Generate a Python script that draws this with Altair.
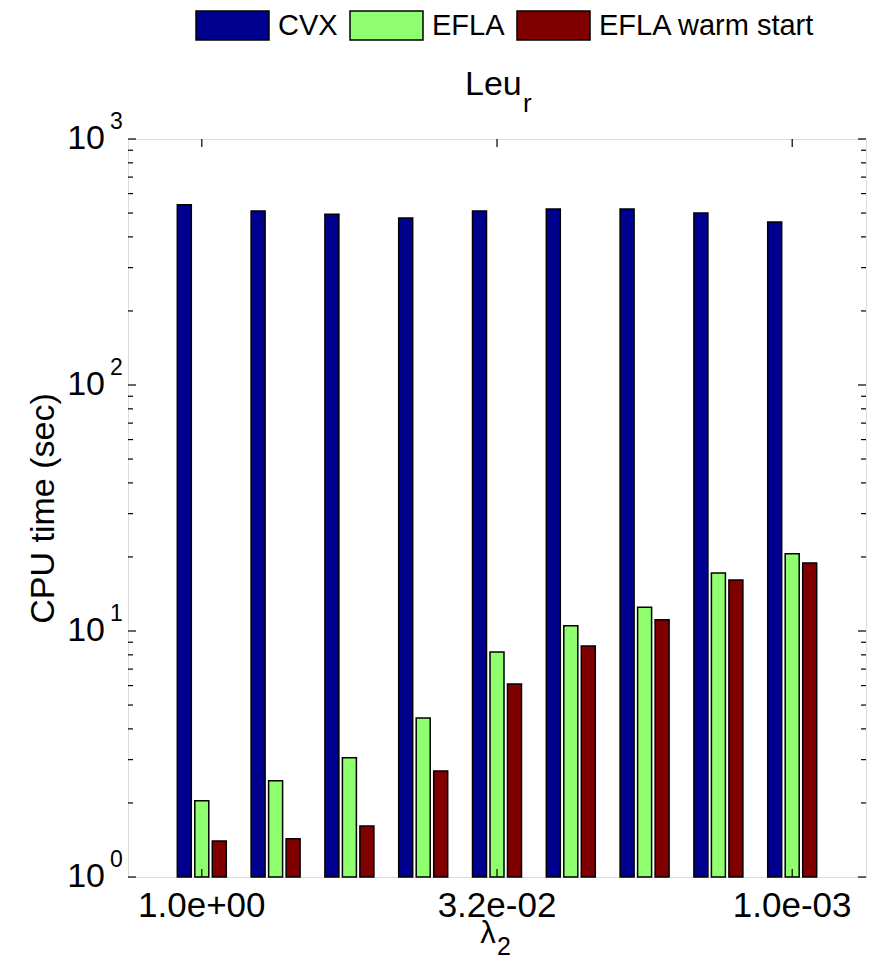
import altair as alt
import pandas as pd

# ---- data ----
lam_labels = ["1.0e+00", "4.2e-01", "1.8e-01", "7.5e-02", "3.2e-02",
              "1.3e-02", "5.6e-03", "2.4e-03", "1.0e-03"]
series = ["CVX", "EFLA", "EFLA warm start"]
cvx = [540, 510, 495, 477, 510, 519, 519, 500, 460]
efla = [2.04, 2.46, 3.05, 4.43, 8.22, 10.5, 12.5, 17.2, 20.6]
warm = [1.40, 1.43, 1.61, 2.70, 6.09, 8.69, 11.1, 16.1, 18.9]
colors = ["#00008F", "#8FFF70", "#800000"]
shown_x = ["1.0e+00", "3.2e-02", "1.0e-03"]
y_major = [1, 10, 100, 1000]
y_exps = ["0", "1", "2", "3"]
y_minor = [k * 10 ** d for d in range(3) for k in range(2, 10)]

FONT = "Liberation Sans"
W = H = 738

rows = []
for name, vals in zip(series, [cvx, efla, warm]):
    for lam, v in zip(lam_labels, vals):
        rows.append({"lam": lam, "series": name, "value": v})
bars_df = pd.DataFrame(rows)

xscale = alt.Scale(domain=lam_labels, paddingInner=0, paddingOuter=0.5)
yscale = alt.Scale(type="log", domain=[1, 1000])

xaxis = alt.Axis(values=shown_x, ticks=False, domain=False, grid=False,
                 labelAngle=0, labelFontSize=35, labelPadding=11,
                 labelFont=FONT, labelColor="black", title=None)
yaxis = alt.Axis(title="CPU time (sec)", labels=False, ticks=False,
                 domain=False, grid=False, titleFontSize=34,
                 titleFontWeight="normal", titleFont=FONT,
                 titleColor="black", titlePadding=68)

bars = alt.Chart(bars_df).mark_bar(stroke="black", strokeWidth=1.5).encode(
    x=alt.X("lam:N", scale=xscale, axis=xaxis),
    xOffset=alt.XOffset("series:N", scale=alt.Scale(domain=series, paddingInner=0.2,
                                                   paddingOuter=0.709)),
    y=alt.Y("value:Q", scale=yscale, axis=yaxis),
    y2=alt.datum(1),
    color=alt.Color("series:N", scale=alt.Scale(domain=series, range=colors),
                    legend=alt.Legend(title=None, orient="none", direction="horizontal",
                                      legendX=67, legendY=-151, padding=0,
                                      symbolType="M-1,-0.397H1V0.397H-1Z",
                                      symbolSize=5329, symbolStrokeColor="black",
                                      symbolStrokeWidth=1.5, symbolOpacity=1,
                                      labelFontSize=29, labelFont=FONT,
                                      labelColor="black", labelOffset=8,
                                      labelLimit=400, columnPadding=9)),
)

maj_df = pd.DataFrame({"v": y_major, "e": y_exps})
min_df = pd.DataFrame({"v": y_minor})
xt_df = pd.DataFrame({"lam": shown_x})

yv = alt.Y("v:Q", scale=yscale, axis=yaxis)

def yticks(df, length):
    left = alt.Chart(df).mark_rule(color="black", strokeWidth=1.2).encode(
        y=yv, x=alt.value(0), x2=alt.value(length))
    right = alt.Chart(df).mark_rule(color="black", strokeWidth=1.2).encode(
        y=yv, x=alt.value(W), x2=alt.value(W - length))
    return left + right

xtick_top = alt.Chart(xt_df).mark_rule(color="black", strokeWidth=1.2).encode(
    x=alt.X("lam:N", scale=xscale, axis=xaxis, bandPosition=0.5),
    y=alt.value(0), y2=alt.value(8))
xtick_bot = alt.Chart(xt_df).mark_rule(color="black", strokeWidth=1.2).encode(
    x=alt.X("lam:N", scale=xscale, axis=xaxis, bandPosition=0.5),
    y=alt.value(H), y2=alt.value(H - 8))

ylab_base = alt.Chart(maj_df).mark_text(
    align="right", baseline="middle", fontSize=34, font=FONT, color="black"
).encode(y=yv, x=alt.value(-23), text=alt.value("10"))
ylab_exp = alt.Chart(maj_df).mark_text(
    align="left", baseline="middle", fontSize=23, font=FONT, color="black", dy=-17
).encode(y=yv, x=alt.value(-18), text="e:N")

one = pd.DataFrame({"t": [0]})
title_main = alt.Chart(one).mark_text(
    align="left", baseline="alphabetic", fontSize=34, font=FONT, color="black"
).encode(x=alt.value(337), y=alt.value(-44), text=alt.value("Leu"))
title_sub = alt.Chart(one).mark_text(
    align="left", baseline="alphabetic", fontSize=26, font=FONT, color="black"
).encode(x=alt.value(395), y=alt.value(-27), text=alt.value("r"))
xt_main = alt.Chart(one).mark_text(
    align="center", baseline="alphabetic", fontSize=31, font=FONT, color="black"
).encode(x=alt.value(360), y=alt.value(804), text=alt.value("λ"))
xt_sub = alt.Chart(one).mark_text(
    align="left", baseline="alphabetic", fontSize=25, font=FONT, color="black"
).encode(x=alt.value(369), y=alt.value(816), text=alt.value("2"))

chart = alt.layer(
    bars, yticks(maj_df, 8), yticks(min_df, 5), xtick_top, xtick_bot,
    ylab_base, ylab_exp, title_main, title_sub, xt_main, xt_sub
).properties(
    width=W, height=H,
    padding={"left": 120, "top": 131, "right": 5, "bottom": 85},
    autosize=alt.AutoSizeParams(type="none"),
).configure_view(stroke="black", strokeWidth=1.5).configure(background="white")

chart.save("out.html", embed_options={"renderer": "svg", "actions": False})
